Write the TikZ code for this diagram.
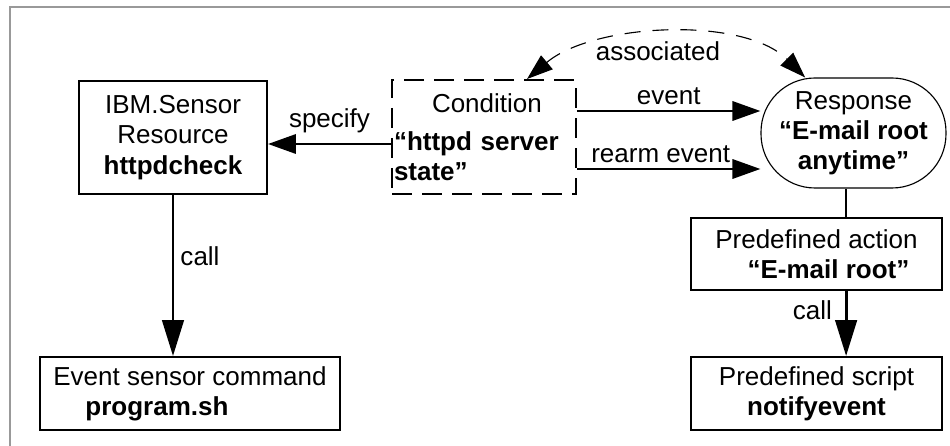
\documentclass[tikz,border=0pt]{standalone}
\usepackage{fontspec}
\setmainfont{Liberation Sans}
\usetikzlibrary{arrows.meta,positioning}

\tikzset{
  txt/.style={font=\fontsize{18.5}{21.5}\selectfont},
  box/.style={txt, draw, line width=1.4pt, inner sep=0pt, align=center},
  arr/.style={line width=2pt, -{Triangle[length=0.7cm,width=0.48cm]}},
  callarr/.style={line width=2pt, -{Triangle[length=0.9cm,width=0.54cm]}},
  assoc/.style={line width=0.8pt, dash pattern=on 0.4cm off 0.3cm,
    {Triangle[length=0.65cm,width=0.45cm]}-{Triangle[length=0.65cm,width=0.45cm]}},
}

\begin{document}
\begin{tikzpicture}
    \useasboundingbox (0,0) rectangle (23.75,-11.15);

    % Frame
    \draw[gray!80, line width=0.8pt] (0.25,-11.15) -- (0.25,-0.175) -- (23.75,-0.175);

    % Boxes
    \node[box, minimum width=4.7cm, minimum height=2.825cm] (sensor) at (4.325,-3.4375)
    {IBM.Sensor\\Resource\\\textbf{httpdcheck}};
    \node[box, dash pattern=on 0.5cm off 0.25cm, align=left, text width=4.5cm,
      inner xsep=0.05cm, minimum height=2.85cm] (cond) at (12.1,-3.425)
    {\hspace*{0.95cm}Condition\\[0.2cm]\textbf{“httpd server}\\\textbf{state”}};
    \node[box, line width=0.8pt, rounded corners=1.35cm, minimum width=4.625cm,
      minimum height=2.75cm] (resp) at (21.3375,-3.325)
    {Response\\\textbf{“E-mail root}\\\textbf{anytime”}};
    \node[box, minimum width=6.275cm, minimum height=1.8cm] (action) at (20.4125,-6.35)
    {Predefined action\\\hspace*{0.6cm}\textbf{“E-mail root”}};
    \node[box, minimum width=6.275cm, minimum height=1.825cm] (script) at (20.4125,-9.8375)
    {Predefined script\\\textbf{notifyevent}};
    \node[box, align=left, minimum width=7.5cm, minimum height=1.825cm] (evcmd) at (4.75,-9.8375)
    {Event sensor command\\\hspace*{0.8cm}\textbf{program.sh}};

    % Connectors
    \draw[arr] ([yshift=-0.175cm]cond.west) --
    node[txt, midway, above=0.12cm] (specify) {specify}
    ([yshift=-0.175cm]cond.west -| sensor.east);
    \draw[arr] ([yshift=0.65cm]cond.east) --
    node[txt, midway, above] (event) {event}
    ([yshift=0.65cm]cond.east -| resp.west);
    \draw[arr] ([yshift=-0.8cm]cond.east) --
    node[txt, midway, above, xshift=-0.2cm] (rearm) {rearm event}
    ([yshift=-0.8cm]cond.east -| resp.west);
    \draw[assoc] ([xshift=1.075cm]cond.north) to[out=40, in=135, looseness=0.8]
    node[txt, midway, below=0.05cm, xshift=-0.25cm] (associated) {associated}
    ([xshift=-1.21cm]resp.north);

    \draw[callarr] (sensor.south) --
    node[txt, pos=0.38, right=1pt] (callA) {call}
    (sensor.south |- evcmd.north);
    \draw[line width=2pt] ([xshift=-0.19cm]resp.south) --
    ([xshift=-0.19cm]resp.south |- action.north);
    \draw[callarr] ([xshift=0.74cm]action.south) --
    node[txt, pos=0.3, left=0.2cm] (callB) {call}
    ([xshift=0.74cm]action.south |- script.north);
\end{tikzpicture}
\end{document}
